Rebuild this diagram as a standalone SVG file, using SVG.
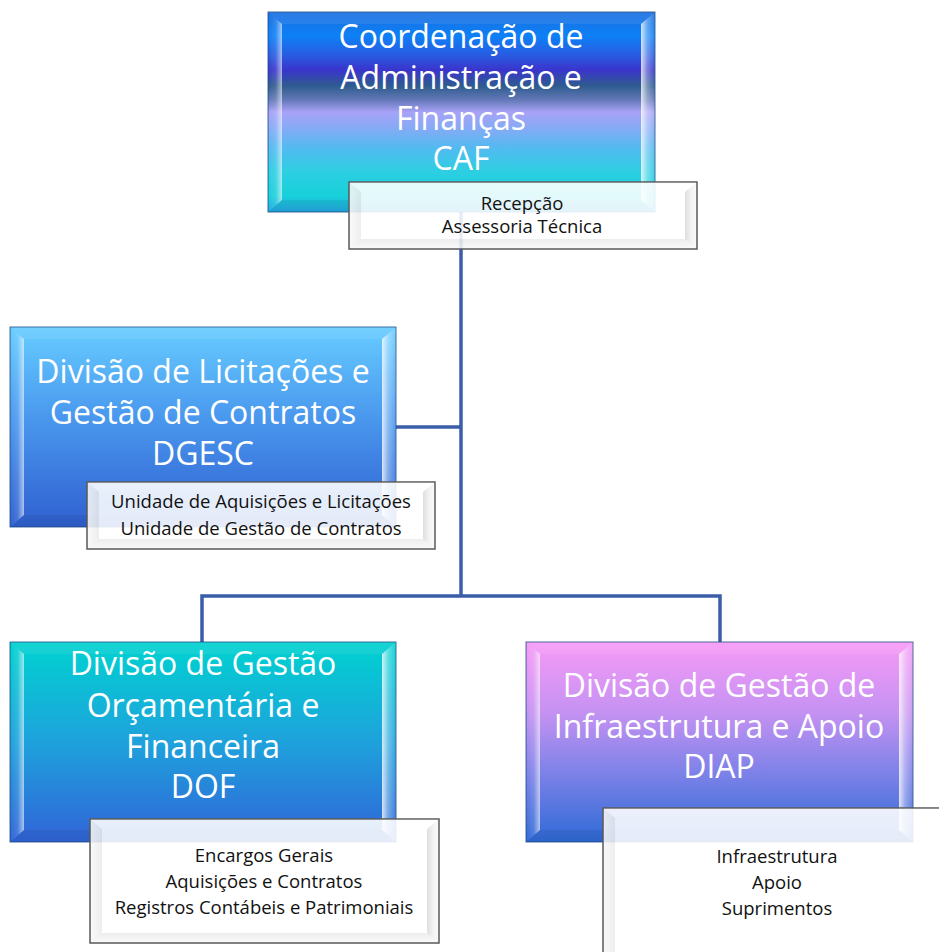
<svg xmlns="http://www.w3.org/2000/svg" width="939" height="952" viewBox="0 0 939 952">
<defs>
<linearGradient id="gCAF" x1="0" y1="0" x2="0" y2="1">
<stop offset="0" stop-color="#1a6fe0"/>
<stop offset="0.12" stop-color="#0d80f6"/>
<stop offset="0.22" stop-color="#2a5ae0"/>
<stop offset="0.29" stop-color="#3a34cc"/>
<stop offset="0.37" stop-color="#2e5c8e"/>
<stop offset="0.44" stop-color="#6478b8"/>
<stop offset="0.5" stop-color="#a8a2f6"/>
<stop offset="0.58" stop-color="#86aaf6"/>
<stop offset="0.68" stop-color="#52baf0"/>
<stop offset="0.8" stop-color="#2ccfe2"/>
<stop offset="0.92" stop-color="#18d0da"/>
<stop offset="1" stop-color="#22a8e2"/>
</linearGradient>
<linearGradient id="gDGESC" x1="0" y1="0" x2="0" y2="1">
<stop offset="0" stop-color="#66ccff"/>
<stop offset="0.45" stop-color="#4a98ee"/>
<stop offset="1" stop-color="#2f60d0"/>
</linearGradient>
<linearGradient id="gDOF" x1="0" y1="0" x2="0" y2="1">
<stop offset="0" stop-color="#00d2d0"/>
<stop offset="0.5" stop-color="#1ea2dc"/>
<stop offset="1" stop-color="#3164d8"/>
</linearGradient>
<linearGradient id="gDIAP" x1="0" y1="0" x2="0" y2="1">
<stop offset="0" stop-color="#f79af7"/>
<stop offset="0.35" stop-color="#c592f2"/>
<stop offset="0.65" stop-color="#7e82e8"/>
<stop offset="1" stop-color="#2f6ad6"/>
</linearGradient>
<linearGradient id="bevL" x1="0" y1="0" x2="1" y2="0">
<stop offset="0" stop-color="#fff" stop-opacity="0"/>
<stop offset="0.55" stop-color="#fff" stop-opacity="0.12"/>
<stop offset="1" stop-color="#fff" stop-opacity="0.6"/>
</linearGradient>
<linearGradient id="bevR" x1="0" y1="0" x2="1" y2="0">
<stop offset="0" stop-color="#fff" stop-opacity="0.8"/>
<stop offset="0.45" stop-color="#fff" stop-opacity="0.35"/>
<stop offset="1" stop-color="#fff" stop-opacity="0.08"/>
</linearGradient>
<linearGradient id="sbevL" x1="0" y1="0" x2="1" y2="0">
<stop offset="0" stop-color="#000" stop-opacity="0.02"/>
<stop offset="1" stop-color="#000" stop-opacity="0.07"/>
</linearGradient>
<linearGradient id="sbevR" x1="0" y1="0" x2="1" y2="0">
<stop offset="0" stop-color="#000" stop-opacity="0.13"/>
<stop offset="0.5" stop-color="#000" stop-opacity="0.05"/>
<stop offset="1" stop-color="#000" stop-opacity="0.02"/>
</linearGradient>
<linearGradient id="sbevB" x1="0" y1="0" x2="0" y2="1">
<stop offset="0" stop-color="#000" stop-opacity="0.07"/>
<stop offset="1" stop-color="#000" stop-opacity="0.02"/>
</linearGradient>
</defs>
<style>
.title{font-family:"Open Sans","Liberation Sans",sans-serif;font-size:32px;fill:#fff;text-anchor:middle}
.sub{font-family:"Open Sans","Liberation Sans",sans-serif;font-size:18.5px;fill:#111;text-anchor:middle}
.conn{stroke:#3a5ea8;stroke-width:3.5;fill:none}
.main{stroke:#1c4a86;stroke-opacity:0.8;stroke-width:1}
.bl{fill:url(#bevL)}
.br{fill:url(#bevR)}
.bt{fill:#fff;fill-opacity:0.08}
.bb{fill:#000;fill-opacity:0.06}
.subbox{fill:#fff;fill-opacity:0.88;stroke:#5a5a5a;stroke-width:1.5}
.sl{fill:url(#sbevL)}
.sr{fill:url(#sbevR)}
.sb{fill:url(#sbevB)}
.st{fill:#fff;fill-opacity:0.1}
</style>

<g id="connectors">
<path class="conn" d="M461,212 V596"/>
<path class="conn" d="M396,427 H461"/>
<path class="conn" d="M202,642 V596 H720 V642"/>
</g>

<g id="node-caf">
<rect class="main" x="268" y="12" width="387" height="200" fill="url(#gCAF)"/>
<polygon class="bl" points="268,12 282,24 282,200 268,212"/>
<polygon class="br" points="655,12 641,24 641,200 655,212"/>
<polygon class="bt" points="268,12 655,12 641,24 282,24"/>
<polygon class="bb" points="268,212 282,200 641,200 655,212"/>
<text class="title" x="461" y="48">Coordenação de</text>
<text class="title" x="461" y="89">Administração e</text>
<text class="title" x="461" y="130">Finanças</text>
<text class="title" x="461" y="170">CAF</text>
</g>
<g id="sub-caf">
<rect class="subbox" x="349" y="182" width="348" height="67"/>
<polygon class="st" points="349,182 697,182 685,192 361,192"/>
<polygon class="sl" points="349,182 361,192 361,239 349,249"/>
<polygon class="sr" points="697,182 685,192 685,239 697,249"/>
<polygon class="sb" points="349,249 361,239 685,239 697,249"/>
<text class="sub" x="522" y="210">Recepção</text>
<text class="sub" x="522" y="233">Assessoria Técnica</text>
</g>

<g id="node-dgesc">
<rect class="main" x="10" y="327" width="386" height="200" fill="url(#gDGESC)"/>
<polygon class="bl" points="10,327 24,339 24,515 10,527"/>
<polygon class="br" points="396,327 382,339 382,515 396,527"/>
<polygon class="bt" points="10,327 396,327 382,339 24,339"/>
<polygon class="bb" points="10,527 24,515 382,515 396,527"/>
<text class="title" x="203" y="383">Divisão de Licitações e</text>
<text class="title" x="203" y="424">Gestão de Contratos</text>
<text class="title" x="203" y="465">DGESC</text>
</g>
<g id="sub-dgesc">
<rect class="subbox" x="87" y="482" width="348" height="67"/>
<polygon class="st" points="87,482 435,482 423,492 99,492"/>
<polygon class="sl" points="87,482 99,492 99,539 87,549"/>
<polygon class="sr" points="435,482 423,492 423,539 435,549"/>
<polygon class="sb" points="87,549 99,539 423,539 435,549"/>
<text class="sub" x="261" y="508">Unidade de Aquisições e Licitações</text>
<text class="sub" x="261" y="535">Unidade de Gestão de Contratos</text>
</g>

<g id="node-dof">
<rect class="main" x="10" y="642" width="386" height="200" fill="url(#gDOF)"/>
<polygon class="bl" points="10,642 24,654 24,830 10,842"/>
<polygon class="br" points="396,642 382,654 382,830 396,842"/>
<polygon class="bt" points="10,642 396,642 382,654 24,654"/>
<polygon class="bb" points="10,842 24,830 382,830 396,842"/>
<text class="title" x="203" y="675">Divisão de Gestão</text>
<text class="title" x="203" y="717">Orçamentária e</text>
<text class="title" x="203" y="758">Financeira</text>
<text class="title" x="203" y="798">DOF</text>
</g>
<g id="sub-dof">
<rect class="subbox" x="90" y="819" width="349" height="124"/>
<polygon class="st" points="90,819 439,819 427,829 102,829"/>
<polygon class="sl" points="90,819 102,829 102,933 90,943"/>
<polygon class="sr" points="439,819 427,829 427,933 439,943"/>
<polygon class="sb" points="90,943 102,933 427,933 439,943"/>
<text class="sub" x="264" y="862">Encargos Gerais</text>
<text class="sub" x="264" y="888">Aquisições e Contratos</text>
<text class="sub" x="264" y="914">Registros Contábeis e Patrimoniais</text>
</g>

<g id="node-diap">
<rect class="main" x="526" y="642" width="387" height="200" fill="url(#gDIAP)"/>
<polygon class="bl" points="526,642 540,654 540,830 526,842"/>
<polygon class="br" points="913,642 899,654 899,830 913,842"/>
<polygon class="bt" points="526,642 913,642 899,654 540,654"/>
<polygon class="bb" points="526,842 540,830 899,830 913,842"/>
<text class="title" x="719" y="697">Divisão de Gestão de</text>
<text class="title" x="719" y="738">Infraestrutura e Apoio</text>
<text class="title" x="719" y="778">DIAP</text>
</g>
<g id="sub-diap">
<rect class="subbox" x="603" y="808" width="360" height="160"/>
<polygon class="st" points="603,808 963,808 951,818 615,818"/>
<polygon class="sl" points="603,808 615,818 615,958 603,968"/>
<polygon class="sr" points="951,808 939,818 939,958 951,968"/>
<text class="sub" x="777" y="863">Infraestrutura</text>
<text class="sub" x="777" y="889">Apoio</text>
<text class="sub" x="777" y="915">Suprimentos</text>
</g>
</svg>
